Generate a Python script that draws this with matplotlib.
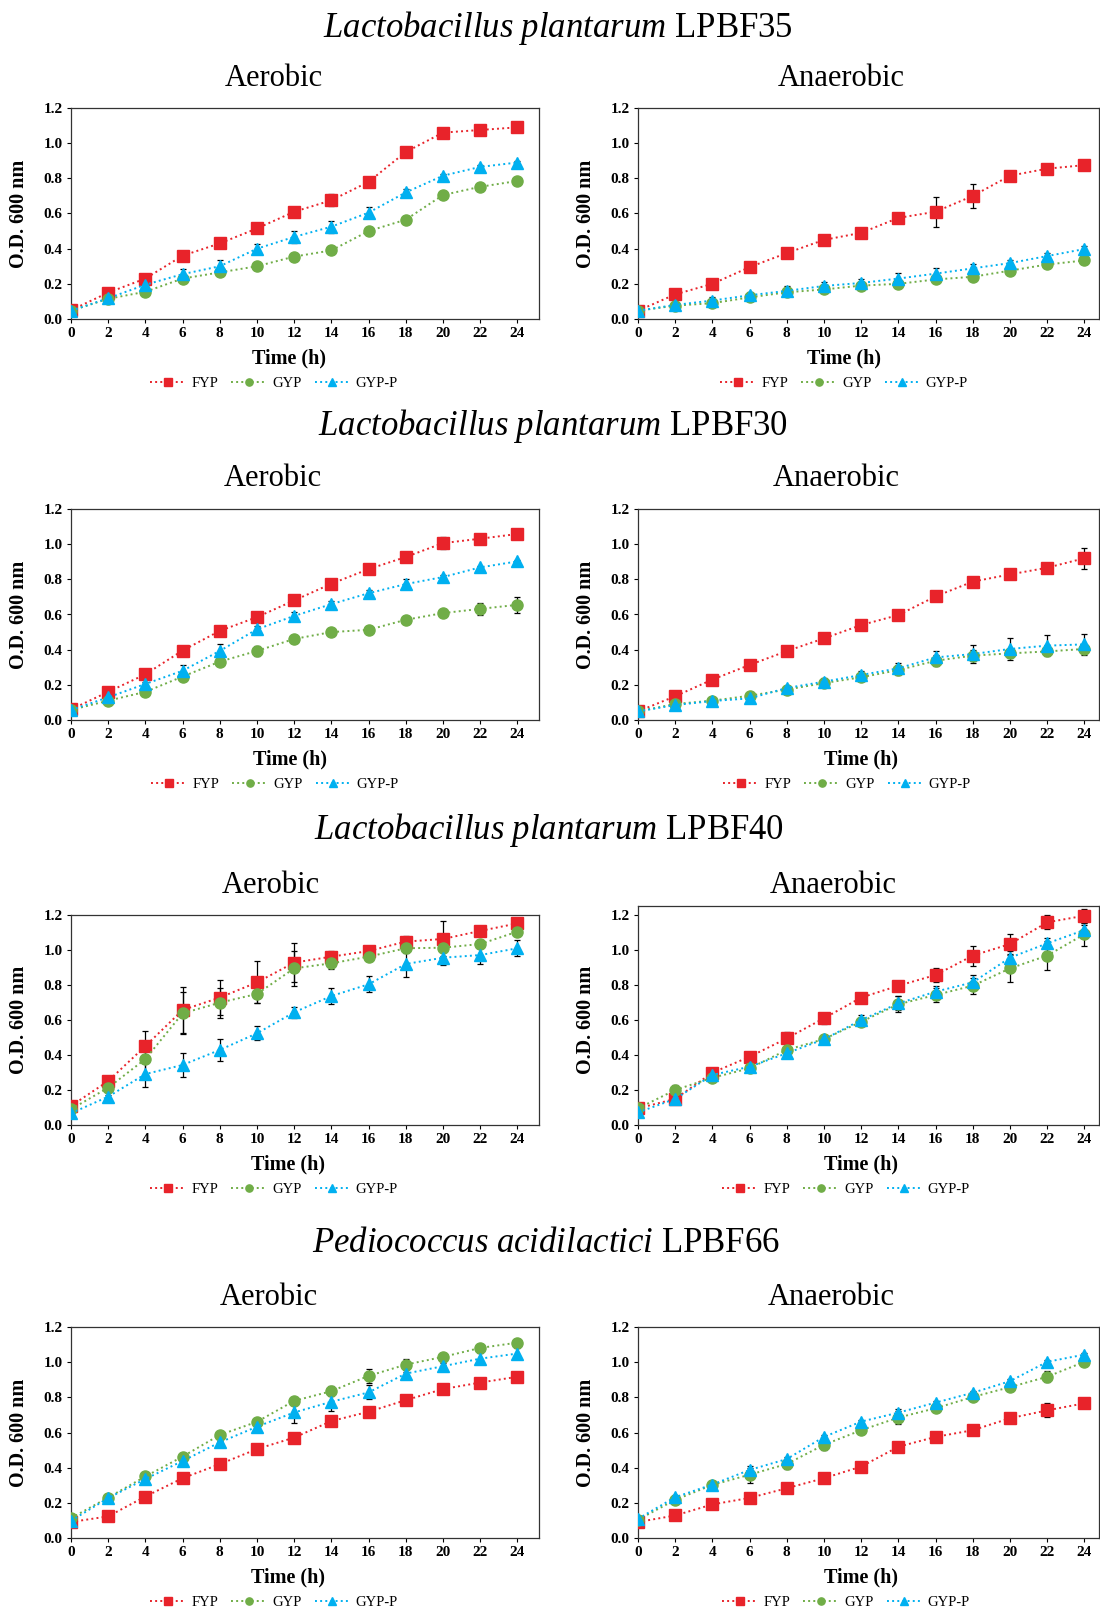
import numpy as np
import matplotlib
matplotlib.use('Agg')
import matplotlib.pyplot as plt

plt.rcParams['font.family'] = ['Liberation Serif', 'DejaVu Serif']
plt.rcParams['mathtext.fontset'] = 'custom'
plt.rcParams['mathtext.it'] = 'Liberation Serif:italic'
plt.rcParams['mathtext.rm'] = 'Liberation Serif'

# data (O.D. 600 nm, mean and sd)
time_h = [0, 2, 4, 6, 8, 10, 12, 14, 16, 18, 20, 22, 24]
media = ['FYP', 'GYP', 'GYP-P']
species = ['Lactobacillus plantarum', 'Lactobacillus plantarum',
           'Lactobacillus plantarum', 'Pediococcus acidilactici']
strains = ['LPBF35', 'LPBF30', 'LPBF40', 'LPBF66']
conditions = ['Aerobic', 'Anaerobic']

# LPBF35
lp35_aer_fyp = [0.05, 0.15, 0.23, 0.36, 0.43, 0.515, 0.61, 0.675, 0.78, 0.95, 1.06, 1.075, 1.09]
lp35_aer_fyp_sd = [0.01, 0.025, 0.015, 0.025, 0.02, 0.015, 0.015, 0.035, 0.01, 0.01, 0.01, 0.015, 0.01]
lp35_aer_gyp = [0.047, 0.115, 0.155, 0.23, 0.265, 0.30, 0.355, 0.39, 0.50, 0.565, 0.705, 0.752, 0.785]
lp35_aer_gyp_sd = [0.01, 0.01, 0.015, 0.02, 0.015, 0.01, 0.01, 0.01, 0.01, 0.01, 0.01, 0.01, 0.01]
lp35_aer_gypp = [0.047, 0.118, 0.195, 0.255, 0.30, 0.40, 0.467, 0.525, 0.605, 0.72, 0.815, 0.865, 0.89]
lp35_aer_gypp_sd = [0.01, 0.01, 0.015, 0.03, 0.035, 0.025, 0.035, 0.035, 0.03, 0.02, 0.01, 0.01, 0.01]

lp35_ana_fyp = [0.047, 0.14, 0.2, 0.295, 0.375, 0.45, 0.49, 0.575, 0.61, 0.70, 0.815, 0.855, 0.875]
lp35_ana_fyp_sd = [0.01, 0.02, 0.03, 0.01, 0.03, 0.01, 0.02, 0.02, 0.085, 0.07, 0.01, 0.01, 0.01]
lp35_ana_gyp = [0.047, 0.076, 0.09, 0.123, 0.152, 0.168, 0.19, 0.20, 0.225, 0.24, 0.275, 0.31, 0.333]
lp35_ana_gyp_sd = [0.01, 0.01, 0.01, 0.01, 0.015, 0.01, 0.01, 0.01, 0.01, 0.01, 0.01, 0.01, 0.01]
lp35_ana_gypp = [0.047, 0.08, 0.105, 0.135, 0.16, 0.188, 0.205, 0.23, 0.258, 0.288, 0.318, 0.358, 0.398]
lp35_ana_gypp_sd = [0.01, 0.01, 0.02, 0.02, 0.025, 0.02, 0.025, 0.03, 0.03, 0.025, 0.02, 0.015, 0.02]

# LPBF30
lp30_aer_fyp = [0.06, 0.16, 0.26, 0.395, 0.507, 0.585, 0.68, 0.775, 0.858, 0.927, 1.006, 1.031, 1.058]
lp30_aer_fyp_sd = [0.01, 0.015, 0.02, 0.01, 0.01, 0.015, 0.025, 0.01, 0.01, 0.025, 0.035, 0.02, 0.02]
lp30_aer_gyp = [0.057, 0.11, 0.16, 0.247, 0.332, 0.393, 0.461, 0.50, 0.513, 0.57, 0.608, 0.632, 0.655]
lp30_aer_gyp_sd = [0.01, 0.01, 0.01, 0.01, 0.01, 0.03, 0.01, 0.01, 0.01, 0.01, 0.01, 0.035, 0.045]
lp30_aer_gypp = [0.057, 0.129, 0.205, 0.28, 0.393, 0.516, 0.592, 0.659, 0.721, 0.773, 0.813, 0.868, 0.902]
lp30_aer_gypp_sd = [0.01, 0.01, 0.01, 0.035, 0.04, 0.02, 0.025, 0.02, 0.02, 0.03, 0.01, 0.01, 0.01]

lp30_ana_fyp = [0.049, 0.135, 0.23, 0.313, 0.392, 0.464, 0.54, 0.597, 0.703, 0.787, 0.828, 0.866, 0.92]
lp30_ana_fyp_sd = [0.01, 0.01, 0.01, 0.01, 0.01, 0.01, 0.01, 0.01, 0.01, 0.01, 0.01, 0.01, 0.06]
lp30_ana_gyp = [0.049, 0.091, 0.11, 0.138, 0.173, 0.21, 0.243, 0.284, 0.337, 0.366, 0.379, 0.39, 0.404]
lp30_ana_gyp_sd = [0.01, 0.01, 0.01, 0.01, 0.01, 0.01, 0.01, 0.03, 0.03, 0.03, 0.01, 0.01, 0.01]
lp30_ana_gypp = [0.049, 0.085, 0.108, 0.123, 0.182, 0.218, 0.256, 0.294, 0.356, 0.375, 0.404, 0.423, 0.43]
lp30_ana_gypp_sd = [0.01, 0.01, 0.01, 0.01, 0.01, 0.02, 0.02, 0.03, 0.035, 0.05, 0.06, 0.06, 0.06]

# LPBF40
lp40_aer_fyp = [0.109, 0.251, 0.451, 0.657, 0.728, 0.815, 0.928, 0.962, 0.994, 1.048, 1.063, 1.109, 1.152]
lp40_aer_fyp_sd = [0.01, 0.03, 0.085, 0.13, 0.1, 0.12, 0.11, 0.03, 0.03, 0.03, 0.1, 0.02, 0.02]
lp40_aer_gyp = [0.09, 0.213, 0.377, 0.638, 0.699, 0.749, 0.895, 0.924, 0.962, 1.01, 1.013, 1.034, 1.105]
lp40_aer_gyp_sd = [0.01, 0.02, 0.09, 0.12, 0.085, 0.05, 0.1, 0.03, 0.02, 0.03, 0.02, 0.02, 0.02]
lp40_aer_gypp = [0.067, 0.162, 0.291, 0.343, 0.429, 0.524, 0.644, 0.737, 0.804, 0.92, 0.956, 0.971, 1.01]
lp40_aer_gypp_sd = [0.01, 0.01, 0.075, 0.07, 0.065, 0.04, 0.03, 0.045, 0.045, 0.075, 0.04, 0.05, 0.045]

lp40_ana_fyp = [0.095, 0.149, 0.299, 0.39, 0.495, 0.61, 0.728, 0.796, 0.857, 0.968, 1.034, 1.158, 1.196]
lp40_ana_fyp_sd = [0.01, 0.03, 0.02, 0.01, 0.035, 0.03, 0.01, 0.025, 0.04, 0.057, 0.06, 0.04, 0.04]
lp40_ana_gyp = [0.095, 0.2, 0.27, 0.324, 0.429, 0.491, 0.59, 0.69, 0.743, 0.796, 0.895, 0.968, 1.09]
lp40_ana_gyp_sd = [0.01, 0.03, 0.01, 0.015, 0.02, 0.01, 0.01, 0.045, 0.04, 0.045, 0.08, 0.085, 0.065]
lp40_ana_gypp = [0.072, 0.149, 0.286, 0.333, 0.41, 0.49, 0.6, 0.695, 0.762, 0.815, 0.956, 1.038, 1.114]
lp40_ana_gypp_sd = [0.01, 0.03, 0.01, 0.01, 0.01, 0.01, 0.03, 0.04, 0.03, 0.04, 0.04, 0.03, 0.03]

# LPBF66
lp66_aer_fyp = [0.091, 0.123, 0.236, 0.34, 0.42, 0.506, 0.571, 0.665, 0.718, 0.784, 0.847, 0.884, 0.917]
lp66_aer_fyp_sd = [0.01, 0.02, 0.02, 0.015, 0.02, 0.01, 0.01, 0.01, 0.01, 0.01, 0.01, 0.01, 0.01]
lp66_aer_gyp = [0.113, 0.23, 0.35, 0.463, 0.586, 0.661, 0.78, 0.835, 0.922, 0.986, 1.03, 1.081, 1.111]
lp66_aer_gyp_sd = [0.01, 0.01, 0.01, 0.01, 0.01, 0.01, 0.01, 0.03, 0.04, 0.03, 0.02, 0.01, 0.02]
lp66_aer_gypp = [0.098, 0.227, 0.336, 0.438, 0.544, 0.633, 0.714, 0.775, 0.828, 0.935, 0.977, 1.02, 1.049]
lp66_aer_gypp_sd = [0.01, 0.01, 0.01, 0.01, 0.01, 0.01, 0.06, 0.05, 0.04, 0.01, 0.02, 0.03, 0.03]

lp66_ana_fyp = [0.091, 0.128, 0.191, 0.228, 0.283, 0.34, 0.406, 0.519, 0.575, 0.613, 0.681, 0.726, 0.766]
lp66_ana_fyp_sd = [0.01, 0.01, 0.01, 0.01, 0.01, 0.01, 0.01, 0.01, 0.03, 0.01, 0.01, 0.04, 0.01]
lp66_ana_gyp = [0.104, 0.217, 0.302, 0.36, 0.421, 0.53, 0.613, 0.685, 0.738, 0.802, 0.858, 0.917, 1.002]
lp66_ana_gyp_sd = [0.01, 0.01, 0.025, 0.05, 0.03, 0.03, 0.01, 0.035, 0.01, 0.01, 0.01, 0.03, 0.01]
lp66_ana_gypp = [0.109, 0.232, 0.304, 0.387, 0.449, 0.575, 0.662, 0.713, 0.77, 0.826, 0.892, 1.002, 1.043]
lp66_ana_gypp_sd = [0.01, 0.01, 0.01, 0.01, 0.01, 0.01, 0.01, 0.02, 0.01, 0.01, 0.01, 0.01, 0.01]

panels = [
    [(lp35_aer_fyp, lp35_aer_fyp_sd, lp35_aer_gyp, lp35_aer_gyp_sd, lp35_aer_gypp, lp35_aer_gypp_sd),
     (lp35_ana_fyp, lp35_ana_fyp_sd, lp35_ana_gyp, lp35_ana_gyp_sd, lp35_ana_gypp, lp35_ana_gypp_sd)],
    [(lp30_aer_fyp, lp30_aer_fyp_sd, lp30_aer_gyp, lp30_aer_gyp_sd, lp30_aer_gypp, lp30_aer_gypp_sd),
     (lp30_ana_fyp, lp30_ana_fyp_sd, lp30_ana_gyp, lp30_ana_gyp_sd, lp30_ana_gypp, lp30_ana_gypp_sd)],
    [(lp40_aer_fyp, lp40_aer_fyp_sd, lp40_aer_gyp, lp40_aer_gyp_sd, lp40_aer_gypp, lp40_aer_gypp_sd),
     (lp40_ana_fyp, lp40_ana_fyp_sd, lp40_ana_gyp, lp40_ana_gyp_sd, lp40_ana_gypp, lp40_ana_gypp_sd)],
    [(lp66_aer_fyp, lp66_aer_fyp_sd, lp66_aer_gyp, lp66_aer_gyp_sd, lp66_aer_gypp, lp66_aer_gypp_sd),
     (lp66_ana_fyp, lp66_ana_fyp_sd, lp66_ana_gyp, lp66_ana_gyp_sd, lp66_ana_gypp, lp66_ana_gypp_sd)],
]

colors = ['#E8232A', '#70AD47', '#00B0F0']
markers = ['s', 'o', '^']
msizes = [9, 8, 8]

# layout in pixels (figure is 1100 x 1610)
W, H = 1100, 1610
row_y = [(108, 319), (509, 720), (915, 1125), (1327, 1538)]  # y of 1.2 and 0.0
col_x = [(71, 539), (638, 1099)]                              # left, right spine
px_per_h = 18.6
title_pos = [(558, 28), (553, 426), (549, 830), (546, 1244)]
sub_x = [[274, 841], [273, 836], [271, 833], [269, 831]]
xlab_x = [[289, 844], [290, 861], [288, 861], [288, 861]]
leg_x = [[274, 844], [275, 847], [274, 846], [274, 846]]


def fx(px):
    return px / W


def fy(py):
    return 1 - py / H


fig = plt.figure(figsize=(11, 16.1), dpi=100)

for r in range(4):
    tx, ty = title_pos[r]
    fig.text(fx(tx), fy(ty),
             r'$\mathit{' + species[r].replace(' ', r'\ ') + '}$ ' + strains[r],
             ha='center', va='center', fontsize=25)
    y12, y0 = row_y[r]
    for c in range(2):
        left, right = col_x[c]
        xmax = (right - left) / px_per_h
        ymax = 1.2
        top = y12
        if r == 2 and c == 1:
            ymax = 1.25
            top = y0 - ymax * (y0 - y12) / 1.2
        ax = fig.add_axes([fx(left), fy(y0), (right - left) / W, (y0 - top) / H])
        data = panels[r][c]
        handles = []
        for k in range(3):
            mean = data[2 * k]
            sd = data[2 * k + 1]
            ax.errorbar(time_h, mean, yerr=sd, fmt='none', ecolor='black',
                        elinewidth=0.9, capsize=2.5, capthick=0.9, zorder=2)
            h, = ax.plot(time_h, mean, linestyle=':', linewidth=1.4, color=colors[k],
                         marker=markers[k], markersize=msizes[k], markerfacecolor=colors[k],
                         markeredgecolor=colors[k], label=media[k], zorder=3 + k)
            handles.append(h)
        ax.set_xlim(0, xmax)
        ax.set_ylim(0, ymax)
        ax.set_xticks(time_h)
        ax.set_yticks(np.arange(0, 1.21, 0.2))
        ax.set_yticklabels(['%.1f' % v for v in np.arange(0, 1.21, 0.2)])
        ax.tick_params(direction='out', length=3, width=0.8, pad=3, labelsize=11)
        for lab in ax.get_xticklabels() + ax.get_yticklabels():
            lab.set_fontweight('bold')
        for s in ax.spines.values():
            s.set_linewidth(0.9)
            s.set_color('#333333')

        fig.text(fx(sub_x[r][c]), fy(y12 - 30), conditions[c],
                 ha='center', va='center', fontsize=22)
        fig.text(fx(left - 52), fy((y12 + y0) / 2), 'O.D. 600 nm', rotation=90,
                 ha='center', va='center', fontsize=14.5, fontweight='bold')
        fig.text(fx(xlab_x[r][c]), fy(y0 + 39), 'Time (h)',
                 ha='center', va='center', fontsize=14.5, fontweight='bold')
        ax.legend(handles=handles, loc='center', ncol=3, frameon=False,
                  bbox_to_anchor=(fx(leg_x[r][c]), fy(y0 + 64)),
                  bbox_transform=fig.transFigure, fontsize=10.5, markerscale=0.65,
                  handlelength=2.4, handletextpad=0.4, columnspacing=0.9)

fig.savefig('out.png', dpi=100)
